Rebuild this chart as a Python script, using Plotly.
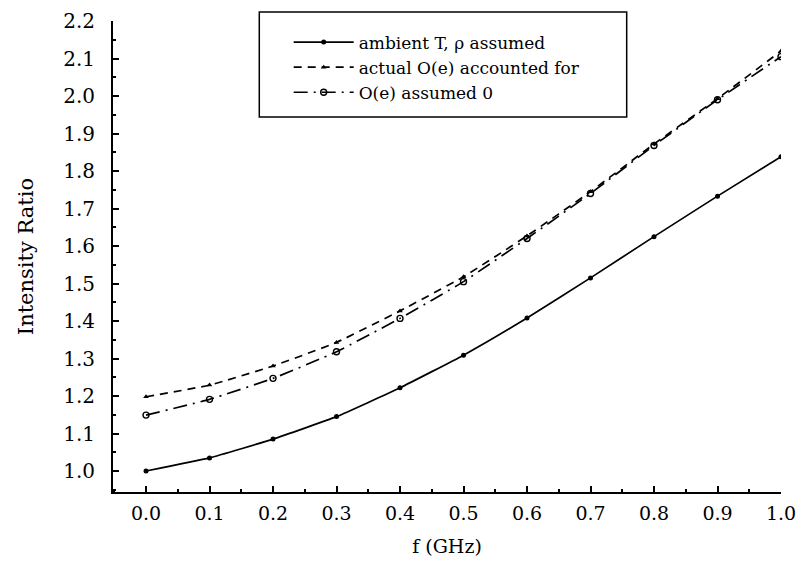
import plotly.graph_objects as go

freq = [0.0, 0.1, 0.2, 0.3, 0.4, 0.5, 0.6, 0.7, 0.8, 0.9, 1.0]
ambient = [1.000, 1.035, 1.085, 1.145, 1.222, 1.309, 1.408, 1.515, 1.625, 1.733, 1.838]
actual = [1.198, 1.229, 1.280, 1.343, 1.427, 1.518, 1.627, 1.745, 1.872, 1.993, 2.120]
assumed0 = [1.149, 1.191, 1.247, 1.318, 1.407, 1.505, 1.620, 1.740, 1.868, 1.990, 2.105]

names = ["ambient T, \u03c1 assumed", "actual O(e) accounted for", "O(e) assumed 0"]
x_ticks = [0.0, 0.1, 0.2, 0.3, 0.4, 0.5, 0.6, 0.7, 0.8, 0.9, 1.0]
y_ticks = [1.0, 1.1, 1.2, 1.3, 1.4, 1.5, 1.6, 1.7, 1.8, 1.9, 2.0, 2.1, 2.2]

FONT = "DejaVu Serif"

fig = go.Figure()
fig.add_trace(go.Scatter(
    x=freq, y=ambient, name=names[0], mode="lines+markers",
    line=dict(color="black", width=1.7, dash="solid", shape="spline", smoothing=0.4),
    marker=dict(symbol="circle", size=5, color="black"),
))
fig.add_trace(go.Scatter(
    x=freq, y=actual, name=names[1], mode="lines+markers",
    line=dict(color="black", width=1.7, dash="8px,6px", shape="spline", smoothing=0.4),
    marker=dict(symbol="triangle-up", size=5, color="black"),
))
fig.add_trace(go.Scatter(
    x=freq, y=assumed0, name=names[2], mode="lines+markers",
    line=dict(color="black", width=1.7, dash="14px,6px,2px,6px", shape="spline", smoothing=0.4),
    marker=dict(symbol="circle-open", size=6, color="black", line=dict(width=1.4)),
))

# page body has an 8px default margin; size the figure so it fits without scrollbars
fig.update_layout(
    width=790, height=549,
    margin=dict(l=105, r=17, t=13, b=65, autoexpand=False),
    paper_bgcolor="white", plot_bgcolor="white",
    font=dict(family=FONT, color="black", size=16),
    showlegend=True,
    legend=dict(
        x=0.263, y=0.9926, xanchor="left", yanchor="top",
        borderwidth=0, bgcolor="rgba(0,0,0,0)",
        font=dict(family=FONT, size=17, color="black"),
        tracegroupgap=0, itemwidth=60,
        traceorder="normal",
    ),
    shapes=[dict(
        type="rect", xref="paper", yref="paper",
        x0=0.219, x1=0.769, y0=0.796, y1=1.019,
        line=dict(color="black", width=1.5), fillcolor="white", layer="below",
    )],
    xaxis=dict(
        range=[-0.052, 1.0], tickvals=x_ticks,
        ticktext=[f"{v:.1f}" for v in x_ticks],
        showgrid=False, zeroline=False, automargin=False,
        showline=True, linecolor="black", linewidth=2,
        ticks="inside", ticklen=6, tickwidth=1.5, tickcolor="black",
        minor=dict(dtick=0.05, tick0=0, ticks="inside", ticklen=3, tickcolor="black"),
        tickfont=dict(family=FONT, size=19),
        ticklabelstandoff=3,
        title=dict(text="f (GHz)", font=dict(family=FONT, size=19), standoff=17),
    ),
    yaxis=dict(
        range=[0.944, 2.2], tickvals=y_ticks,
        ticktext=[f"{v:.1f}" for v in y_ticks],
        showgrid=False, zeroline=False, automargin=False,
        showline=True, linecolor="black", linewidth=2,
        ticks="inside", ticklen=6, tickwidth=1.5, tickcolor="black",
        minor=dict(dtick=0.05, tick0=1.0, ticks="inside", ticklen=3, tickcolor="black"),
        tickfont=dict(family=FONT, size=20),
        ticklabelstandoff=12,
        title=dict(text="Intensity Ratio", font=dict(family=FONT, size=21), standoff=24),
    ),
)

fig.write_html("out.html")
